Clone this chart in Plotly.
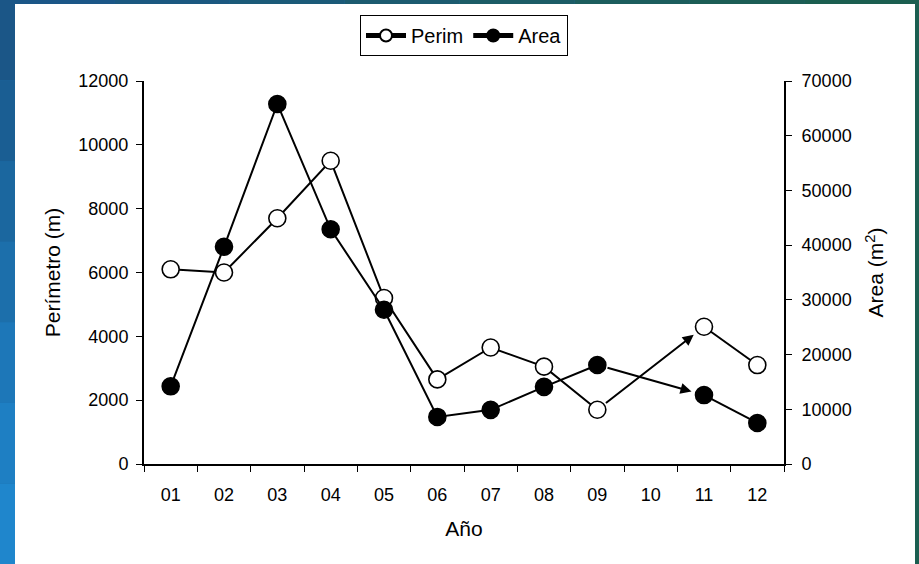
import plotly.graph_objects as go

# ---- data ----
years = ["01", "02", "03", "04", "05", "06", "07", "08", "09", "10", "11", "12"]
perim = [6100, 6000, 7700, 9500, 5200, 2650, 3650, 3050, 1700, None, 4300, 3100]
area = [14200, 39700, 65800, 42900, 28200, 8600, 9900, 14100, 18100, None, 12600, 7500]
perim_ticks = [0, 2000, 4000, 6000, 8000, 10000, 12000]
area_ticks = [0, 10000, 20000, 30000, 40000, 50000, 60000, 70000]

xpos = list(range(1, len(years) + 1))

W, H = 919, 564
L, R, T, B = 144, 135, 81, 100
PW, PH = W - L - R, H - T - B


def px(x):
    return (x - L) / PW


def py(y):
    return (T + PH - y) / PH


FONT = "Liberation Sans, Arial, sans-serif"

fig = go.Figure()
fig.add_trace(go.Scatter(
    x=xpos, y=perim, name="Perim", mode="lines+markers",
    line=dict(color="black", width=2),
    marker=dict(symbol="circle", size=17, color="white", line=dict(color="black", width=1.6)),
    connectgaps=False, yaxis="y",
))
fig.add_trace(go.Scatter(
    x=xpos, y=area, name="Area", mode="lines+markers",
    line=dict(color="black", width=2),
    marker=dict(symbol="circle", size=17, color="black", line=dict(color="black", width=1.6)),
    connectgaps=False, yaxis="y2",
))

# arrows across the missing year (09 -> 11)
i9, i11 = years.index("09"), years.index("11")
for series, yref in ((perim, "y"), (area, "y2")):
    fig.add_annotation(
        x=xpos[i11], y=series[i11], xref="x", yref=yref,
        ax=xpos[i9], ay=series[i9], axref="x", ayref=yref,
        showarrow=True, arrowhead=2, arrowsize=1.1, arrowwidth=2,
        arrowcolor="black", standoff=13, startstandoff=9, text="",
    )

# background frame
shapes = []
shapes.append(dict(type="rect", xref="paper", yref="paper", layer="below",
                   x0=px(0), x1=px(W), y0=py(H), y1=py(0),
                   fillcolor="#1c6aa6", line=dict(width=0)))
# left strip gradient (top darker -> bottom brighter)
lcols = ["#1b5687", "#1a5e93", "#1b679f", "#1c6fab", "#1d77b8", "#1e7fc3", "#1f86cc"]
n = len(lcols)
for k, c in enumerate(lcols):
    shapes.append(dict(type="rect", xref="paper", yref="paper", layer="below",
                       x0=px(0), x1=px(16), y0=py(H * (k + 1) / n), y1=py(H * k / n),
                       fillcolor=c, line=dict(width=0)))
# top strip gradient (blue -> dark green)
tcols = ["#1b5687", "#1b5880", "#1b5a78", "#1c5b6f", "#1c5c66", "#1c5d5d", "#1c5d55", "#1b5e50"]
n = len(tcols)
for k, c in enumerate(tcols):
    shapes.append(dict(type="rect", xref="paper", yref="paper", layer="below",
                       x0=px(W * k / n), x1=px(W * (k + 1) / n), y0=py(4), y1=py(0),
                       fillcolor=c, line=dict(width=0)))
# right strip
shapes.append(dict(type="rect", xref="paper", yref="paper", layer="below",
                   x0=px(915), x1=px(W), y0=py(H), y1=py(0),
                   fillcolor="#1b5e50", line=dict(width=0)))
# white panel
shapes.append(dict(type="rect", xref="paper", yref="paper", layer="below",
                   x0=px(15), x1=px(915), y0=py(H), y1=py(4),
                   fillcolor="white", line=dict(width=0)))

fig.update_layout(
    width=W, height=H,
    margin=dict(l=L, r=R, t=T, b=B, pad=0),
    paper_bgcolor="#1c6aa6", plot_bgcolor="white",
    font=dict(family=FONT, color="black", size=18),
    shapes=shapes,
    showlegend=True,
    legend=dict(
        orientation="h", x=0.5, xanchor="center", y=py(15), yanchor="top",
        bgcolor="white", bordercolor="black", borderwidth=1,
        font=dict(size=20, family=FONT), itemwidth=40,
        tracegroupgap=0, itemsizing="constant",
    ),
    xaxis=dict(
        range=[0.5, len(years) + 0.5], tickmode="array", tickvals=xpos, ticktext=years,
        ticks="outside", ticklen=13, tickcolor="rgba(0,0,0,0)",
        minor=dict(tickmode="array", tickvals=[v + 0.5 for v in [0] + xpos],
                   ticks="outside", ticklen=6, tickwidth=1, tickcolor="black"),
        showline=True, linecolor="black", linewidth=2, showgrid=False, zeroline=False,
        title=dict(text="Año", font=dict(size=21), standoff=18),
        tickfont=dict(size=18),
    ),
    yaxis=dict(
        range=[0, 12000], tickmode="array", tickvals=perim_ticks, tickformat="d",
        ticks="outside", ticklen=6, tickwidth=1, tickcolor="black",
        showline=True, linecolor="black", linewidth=2, showgrid=False, zeroline=False,
        title=dict(text="Perímetro (m)", font=dict(size=21), standoff=12),
        tickfont=dict(size=18), ticklabelstandoff=4,
    ),
    yaxis2=dict(
        range=[0, 70000], tickmode="array", tickvals=area_ticks, tickformat="d",
        overlaying="y", side="right",
        ticks="outside", ticklen=6, tickwidth=1, tickcolor="black",
        showline=True, linecolor="black", linewidth=2, showgrid=False, zeroline=False,
        title=dict(text="Area (m<sup>2</sup>)", font=dict(size=21), standoff=18),
        tickfont=dict(size=18), ticklabelstandoff=6,
    ),
)

fig.write_html("out.html", config={"displayModeBar": False},
               post_script="document.body.style.margin='0';")
